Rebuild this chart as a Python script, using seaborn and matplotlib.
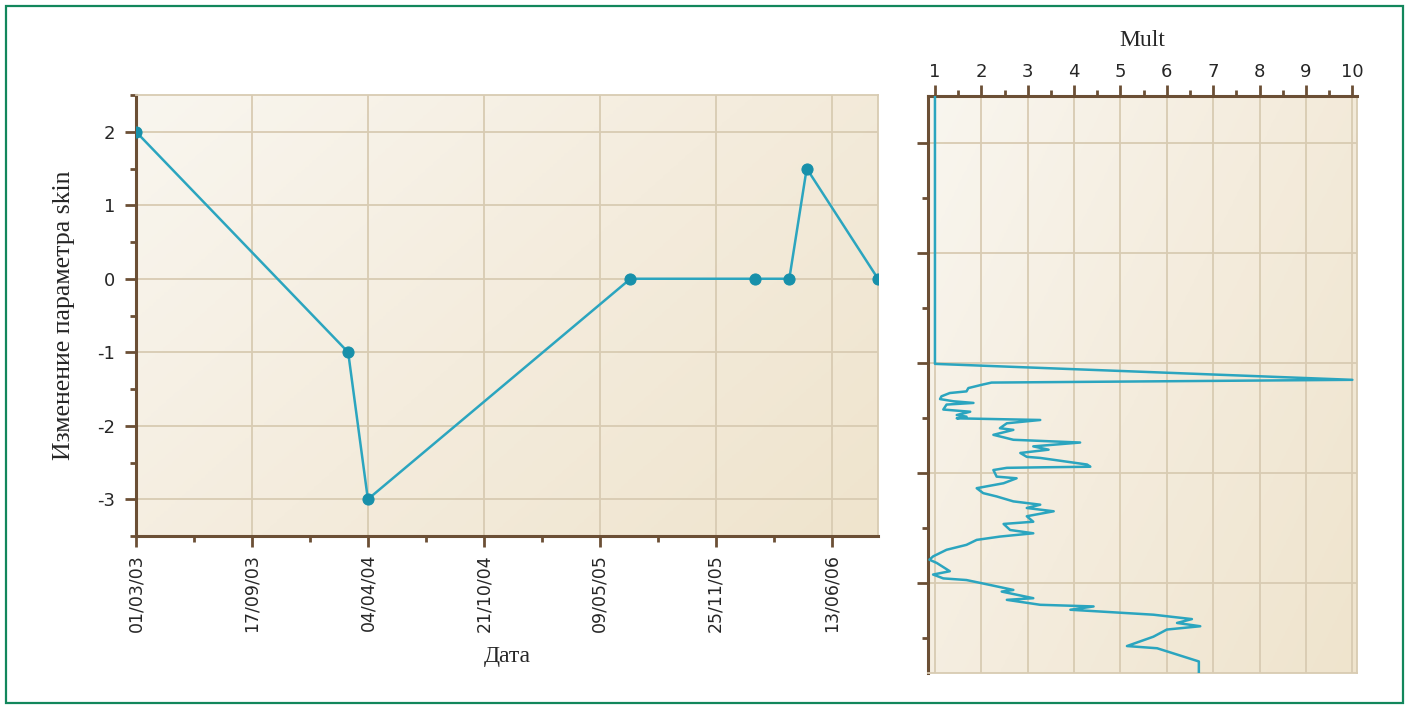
import numpy as np
import pandas as pd
import matplotlib
matplotlib.use("Agg")
import matplotlib.pyplot as plt
import seaborn as sns
from matplotlib.colors import LinearSegmentedColormap
from matplotlib.patches import Rectangle

# --- skin change history ---------------------------------------------------
event_dates = ["2003-03-01", "2004-03-01", "2004-04-04", "2005-07-01",
               "2006-02-01", "2006-04-01", "2006-05-01", "2006-09-01"]
skin_change = [2, -1, -3, 0, 0, 0, 1.5, 0]

date_ticks = ["2003-03-01", "2003-09-17", "2004-04-04", "2004-10-21",
              "2005-05-09", "2005-11-25", "2006-06-13"]
date_tick_labels = ["01/03/03", "17/09/03", "04/04/04", "21/10/04",
                    "09/05/05", "25/11/05", "13/06/06"]
skin_ticks = [2, 1, 0, -1, -2, -3]

# --- multiplier profile along depth ----------------------------------------
mult = [1.00, 1.00, 10.0, 2.22, 2.01, 1.72, 1.68, 1.32, 1.14, 1.11, 1.40,
        1.83, 1.25, 1.18, 1.76, 1.47, 1.68, 1.47, 3.27, 2.55, 2.40, 2.69,
        2.26, 2.55, 2.69, 4.13, 3.12, 3.45, 2.84, 2.98, 3.27, 4.28, 4.35,
        3.34, 2.55, 2.26, 2.33, 2.76, 2.48, 1.90, 2.04, 2.33, 2.69, 3.27,
        2.98, 3.56, 2.98, 3.12, 2.48, 2.62, 3.12, 2.40, 1.90, 1.68, 1.25,
        0.96, 0.88, 1.04, 1.32, 0.96, 1.18, 1.68, 2.19, 2.69, 2.44, 3.12,
        2.55, 3.27, 4.42, 3.92, 5.71, 6.54, 6.22, 6.72, 6.00, 5.71, 5.14,
        5.79, 6.69, 6.69, 6.69]
depth = [2451.5, 2500.2, 2503.1, 2503.6, 2504.0, 2504.6, 2505.2, 2505.5,
         2506.1, 2506.6, 2507.0, 2507.3, 2507.6, 2508.5, 2508.9, 2509.5,
         2509.8, 2510.1, 2510.4, 2511.0, 2511.9, 2512.2, 2513.1, 2513.7,
         2514.0, 2514.5, 2515.2, 2515.8, 2516.4, 2517.1, 2517.3, 2518.5,
         2518.9, 2519.0, 2519.1, 2519.5, 2520.7, 2521.0, 2521.9, 2522.8,
         2523.7, 2524.3, 2525.2, 2525.8, 2526.4, 2527.0, 2527.9, 2528.9,
         2529.3, 2530.4, 2531.0, 2531.6, 2532.2, 2533.1, 2534.0, 2535.2,
         2535.8, 2536.4, 2537.9, 2538.5, 2539.2, 2539.5, 2540.4, 2541.3,
         2541.6, 2542.8, 2543.1, 2544.0, 2544.3, 2544.9, 2545.8, 2546.6,
         2547.3, 2547.9, 2548.5, 2549.8, 2551.5, 2551.9, 2554.3, 2555.5,
         2556.4]
mult_ticks = list(range(1, 11))
depth_ticks = [2460, 2480, 2500, 2520, 2540]

# --- styling ---------------------------------------------------------------
LINE = "#2ba5bf"
MARK = "#1790aa"
SPINE = "#6b4f35"
GRID = "#d8cbb2"
FRAME = "#12875c"

sns.set_style("ticks")
plt.rcParams["font.family"] = ["DejaVu Sans"]

fig = plt.figure(figsize=(14.09, 7.09), dpi=100)
ax1 = fig.add_axes([136 / 1409, 1 - 536 / 709, (878 - 136) / 1409, (536 - 95) / 709])
ax2 = fig.add_axes([928 / 1409, 1 - 673 / 709, (1357 - 928) / 1409, (673 - 96) / 709])

paper = LinearSegmentedColormap.from_list("paper", ["#f9f6ef", "#f4ecdd", "#efe4cd"])


def paint_background(ax):
    g = np.linspace(0, 1, 200)
    X, Y = np.meshgrid(g, g)
    Z = (0.6 * X + 0.4 * (1 - Y))
    ax.imshow(Z, extent=[0, 1, 0, 1], transform=ax.transAxes, cmap=paper,
              aspect="auto", origin="lower", zorder=-10, interpolation="bilinear")
    ax.set_facecolor("none")


for ax in (ax1, ax2):
    paint_background(ax)

# left panel: skin change vs date
skin_df = pd.DataFrame({"date": pd.to_datetime(event_dates), "skin": skin_change})
sns.lineplot(data=skin_df, x="date", y="skin", ax=ax1, color=LINE, lw=1.8,
             marker="o", markersize=8, markerfacecolor=MARK,
             markeredgecolor=MARK, zorder=5)

major_dates = pd.to_datetime(date_ticks)
ax1.set_xticks(major_dates)
ax1.set_xticklabels(date_tick_labels, rotation=90, fontsize=12.5)
ax1.set_xticks(major_dates + pd.Timedelta(days=100), minor=True)
ax1.set_yticks(skin_ticks)
ax1.set_yticklabels([str(v) for v in skin_ticks], fontsize=13)
ax1.set_yticks(np.arange(-3.5, 2.6, 0.5), minor=True)
ax1.set_xlim(pd.Timestamp("2003-03-01"), pd.Timestamp("2006-09-01"))
ax1.set_ylim(-3.5, 2.5)
ax1.grid(True, which="major", color=GRID, lw=1.3, zorder=0)
ax1.set_xlabel("Дата", fontsize=17, family="Liberation Serif", labelpad=10)
ax1.set_ylabel("Изменение параметра skin", fontsize=18.5,
               family="Liberation Serif", labelpad=16)

for side in ("left", "bottom"):
    ax1.spines[side].set_color(SPINE)
    ax1.spines[side].set_linewidth(2.2)
for side in ("top", "right"):
    ax1.spines[side].set_color(GRID)
    ax1.spines[side].set_linewidth(1.3)
ax1.tick_params(which="major", length=8, width=2, color=SPINE, pad=5)
ax1.tick_params(axis="y", which="major", pad=7)
ax1.tick_params(which="minor", length=4, width=2, color=SPINE)

# right panel: multiplier along depth
profile_df = pd.DataFrame({"Mult": mult, "depth": depth})
sns.lineplot(data=profile_df, x="Mult", y="depth", ax=ax2, sort=False,
             estimator=None, color=LINE, lw=1.8, zorder=5)

ax2.xaxis.tick_top()
ax2.xaxis.set_label_position("top")
ax2.set_xticks(mult_ticks)
ax2.set_xticklabels([str(v) for v in mult_ticks], fontsize=13)
ax2.set_xticks(np.arange(1.5, 10, 1.0), minor=True)
ax2.set_yticks(depth_ticks)
ax2.set_yticklabels([])
ax2.set_yticks(np.arange(2470, 2560, 20), minor=True)
ax2.set_xlim(0.85, 10.1)
ax2.set_ylim(2556.4, 2451.5)
ax2.grid(True, which="major", color=GRID, lw=1.3, zorder=0)
ax2.set_xlabel("Mult", fontsize=17, family="Liberation Serif", labelpad=12)
ax2.set_ylabel("")

for side in ("left", "top"):
    ax2.spines[side].set_color(SPINE)
    ax2.spines[side].set_linewidth(2.2)
for side in ("bottom", "right"):
    ax2.spines[side].set_color(GRID)
    ax2.spines[side].set_linewidth(1.3)
ax2.tick_params(which="major", length=8, width=2, color=SPINE, pad=3)
ax2.tick_params(which="minor", length=4, width=2, color=SPINE)

# outer frame
fig.patches.append(Rectangle((6 / 1409, 6 / 709), 1397 / 1409, 697 / 709,
                             transform=fig.transFigure, fill=False,
                             edgecolor=FRAME, lw=1.6))

fig.savefig("out.png", dpi=100)
